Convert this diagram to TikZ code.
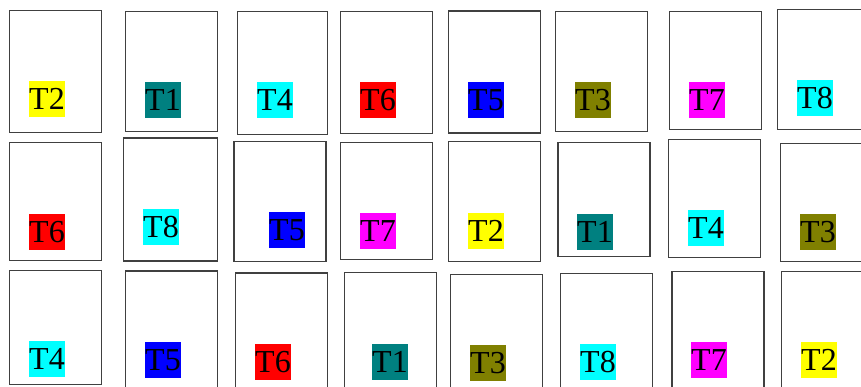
\documentclass[tikz,border=0pt]{standalone}
\usepackage{fontspec}
\setmainfont{Liberation Serif}
\usepackage{tikz}
\usetikzlibrary{positioning}
\usepackage{xcolor}
\definecolor{tyellow}{RGB}{255,255,0}
\definecolor{tteal}{RGB}{0,128,128}
\definecolor{tcyan}{RGB}{0,255,255}
\definecolor{tred}{RGB}{255,0,0}
\definecolor{tblue}{RGB}{0,0,255}
\definecolor{tolive}{RGB}{128,128,0}
\definecolor{tmagenta}{RGB}{255,0,255}
\definecolor{cardline}{RGB}{64,64,64}

\begin{document}
\begin{tikzpicture}[
    x=1pt, y=-1pt,
    card/.style={
        draw=cardline,
        line width=1.3pt,
        fill=white,
        anchor=north west,
        minimum width=92pt,
        minimum height=120pt,
        inner sep=0pt
    },
    tag/.style={
        anchor=north west,
        inner sep=0pt,
        text height=28.5pt,
        text depth=7pt,
        font=\fontsize{32}{36}\selectfont
    },
    ]
    \useasboundingbox (0,0) rectangle (861,387);

    \node[card, minimum height=122pt] (c11) at (8.7,10) {};
    \node[card] (c12) at (125,10.7) {};
    \node[card, minimum width=90pt, minimum height=123pt] (c13) at (237,10.7) {};
    \node[card, minimum height=122pt] (c14) at (340,11) {};
    \node[card, minimum height=122pt] (c15) at (447.7,10.3) {};
    \node[card] (c16) at (555,10.7) {};
    \node[card, minimum height=118pt] (c17) at (669,10.7) {};
    \node[card] (c18) at (776.7,8.7) {};

    \node[card, minimum height=118pt] (c21) at (8.7,142) {};
    \node[card, minimum width=94pt, minimum height=123pt] (c22) at (122.7,137.3) {};
    \node[card] (c23) at (233.3,140.7) {};
    \node[card, minimum height=117pt] (c24) at (340,142) {};
    \node[card] (c25) at (447.7,141) {};
    \node[card, minimum height=114pt] (c26) at (557.3,142) {};
    \node[card, minimum height=118pt] (c27) at (668,139) {};
    \node[card, minimum height=118pt] (c28) at (779.7,143) {};

    \node[card, minimum height=114pt] (c31) at (8.7,269.7) {};
    \node[card] (c32) at (124.7,270.3) {};
    \node[card] (c33) at (235,272.3) {};
    \node[card] (c34) at (344,272) {};
    \node[card] (c35) at (449.7,273.7) {};
    \node[card] (c36) at (559.7,272.7) {};
    \node[card] (c37) at (671.3,270.7) {};
    \node[card] (c38) at (780.7,270.7) {};

    \node[tag, fill=tyellow] (t11) at (29,81) {T2};
    \node[tag, fill=tteal] (t12) at (145,82) {T1};
    \node[tag, fill=tcyan] (t13) at (257,82) {T4};
    \node[tag, fill=tred] (t14) at (360,82) {T6};
    \node[tag, fill=tblue] (t15) at (468,82) {T5};
    \node[tag, fill=tolive] (t16) at (575,82) {T3};
    \node[tag, fill=tmagenta] (t17) at (689,82) {T7};
    \node[tag, fill=tcyan] (t18) at (797,80) {T8};

    \node[tag, fill=tred] (t21) at (29,214) {T6};
    \node[tag, fill=tcyan] (t22) at (143,209) {T8};
    \node[tag, fill=tblue] (t23) at (269,212) {T5};
    \node[tag, fill=tmagenta] (t24) at (360,213) {T7};
    \node[tag, fill=tyellow] (t25) at (468,213) {T2};
    \node[tag, fill=tteal] (t26) at (577,214) {T1};
    \node[tag, fill=tcyan] (t27) at (688,210) {T4};
    \node[tag, fill=tolive] (t28) at (800,214) {T3};

    \node[tag, fill=tcyan] (t31) at (29,341) {T4};
    \node[tag, fill=tblue] (t32) at (145,342) {T5};
    \node[tag, fill=tred] (t33) at (255,344) {T6};
    \node[tag, fill=tteal] (t34) at (372,344) {T1};
    \node[tag, fill=tolive] (t35) at (470,345) {T3};
    \node[tag, fill=tcyan] (t36) at (580,344) {T8};
    \node[tag, fill=tmagenta] (t37) at (691,342) {T7};
    \node[tag, fill=tyellow] (t38) at (801,342) {T2};
\end{tikzpicture}
\end{document}
